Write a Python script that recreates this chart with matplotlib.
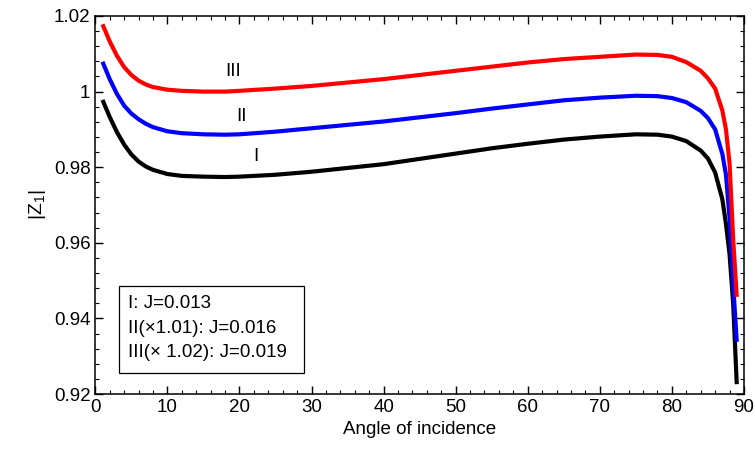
import matplotlib
matplotlib.use('Agg')
import matplotlib.pyplot as plt
from matplotlib.ticker import MultipleLocator, FuncFormatter
from matplotlib.patches import Rectangle

plt.rcParams['font.family'] = ['Liberation Sans', 'DejaVu Sans']

# angle of incidence (deg)
angle = [1, 2, 3, 4, 5, 6, 7, 8, 10, 12, 15, 18, 20, 25, 30, 35, 40, 45, 50, 55,
         60, 65, 70, 75, 78, 80, 82, 84, 85, 86, 87, 87.5, 88, 88.5, 89]

# |Z1| curves
z_I = [0.9978, 0.9933, 0.9893, 0.9860, 0.9834, 0.9815, 0.9802, 0.9793, 0.9782,
       0.9777, 0.9775, 0.9774, 0.9775, 0.9780, 0.9788, 0.9798, 0.9808, 0.9822,
       0.9836, 0.9850, 0.9862, 0.9873, 0.9881, 0.9887, 0.9886, 0.9881, 0.9869,
       0.9844, 0.9823, 0.9786, 0.9715, 0.9650, 0.9570, 0.9440, 0.9226]
z_II = [1.0079, 1.0033, 0.9994, 0.9963, 0.9942, 0.9927, 0.9915, 0.9906, 0.9895,
        0.9890, 0.9887, 0.9886, 0.9887, 0.9894, 0.9903, 0.9912, 0.9921, 0.9932,
        0.9943, 0.9955, 0.9966, 0.9977, 0.9984, 0.9989, 0.9988, 0.9983, 0.9972,
        0.9949, 0.9930, 0.9900, 0.9835, 0.9780, 0.9665, 0.9490, 0.9338]
z_III = [1.0178, 1.0133, 1.0095, 1.0065, 1.0044, 1.0029, 1.0019, 1.0012, 1.0005,
         1.0002, 1.0000, 1.0000, 1.0002, 1.0008, 1.0015, 1.0024, 1.0033, 1.0044,
         1.0055, 1.0066, 1.0077, 1.0086, 1.0092, 1.0098, 1.0097, 1.0092, 1.0078,
         1.0055, 1.0035, 1.0008, 0.9950, 0.9900, 0.9810, 0.9610, 0.9457]

curve_names = ['I', 'II', 'III']
curve_label_pos = [(22.3, 0.9827), (20.3, 0.9933), (19.1, 1.0052)]
legend_lines = ['I: J=0.013', 'II(\u00d71.01): J=0.016', 'III(\u00d7 1.02): J=0.019']

fig = plt.figure(figsize=(7.55, 4.53), dpi=100)
ax = fig.add_axes([0.1262, 0.1302, 0.8592, 0.8345])

ax.plot(angle, z_I, color='black', lw=3, solid_capstyle='butt')
ax.plot(angle, z_II, color='blue', lw=3, solid_capstyle='butt')
ax.plot(angle, z_III, color='red', lw=3, solid_capstyle='butt')

for name, (x, y) in zip(curve_names, curve_label_pos):
    ax.text(x, y, name, fontsize=13.5, ha='center', va='center')

# legend box
ax.add_patch(Rectangle((0.037, 0.0563), 0.2847, 0.2294, transform=ax.transAxes,
                       fill=False, edgecolor='black', lw=0.9))
for line, yy in zip(legend_lines, [0.240, 0.1738, 0.1093]):
    ax.text(0.0509, yy, line, transform=ax.transAxes, fontsize=13.5,
            ha='left', va='center')

ax.set_xlim(0, 90)
ax.set_ylim(0.92, 1.02)
ax.xaxis.set_major_locator(MultipleLocator(10))
ax.xaxis.set_minor_locator(MultipleLocator(2))
ax.yaxis.set_major_locator(MultipleLocator(0.02))
ax.yaxis.set_minor_locator(MultipleLocator(0.004))
ax.yaxis.set_major_formatter(FuncFormatter(lambda v, p: '%g' % round(v, 3)))
ax.tick_params(which='both', direction='in', top=True, right=True, labelsize=13.5)
ax.tick_params(which='major', length=6, width=1)
ax.tick_params(which='minor', length=3, width=0.8)
for s in ax.spines.values():
    s.set_linewidth(1.1)

ax.set_xlabel('Angle of incidence', fontsize=13.5)
ax.set_ylabel('|Z$_\\mathregular{1}$|', fontsize=14)

fig.savefig('out.png', dpi=100)
